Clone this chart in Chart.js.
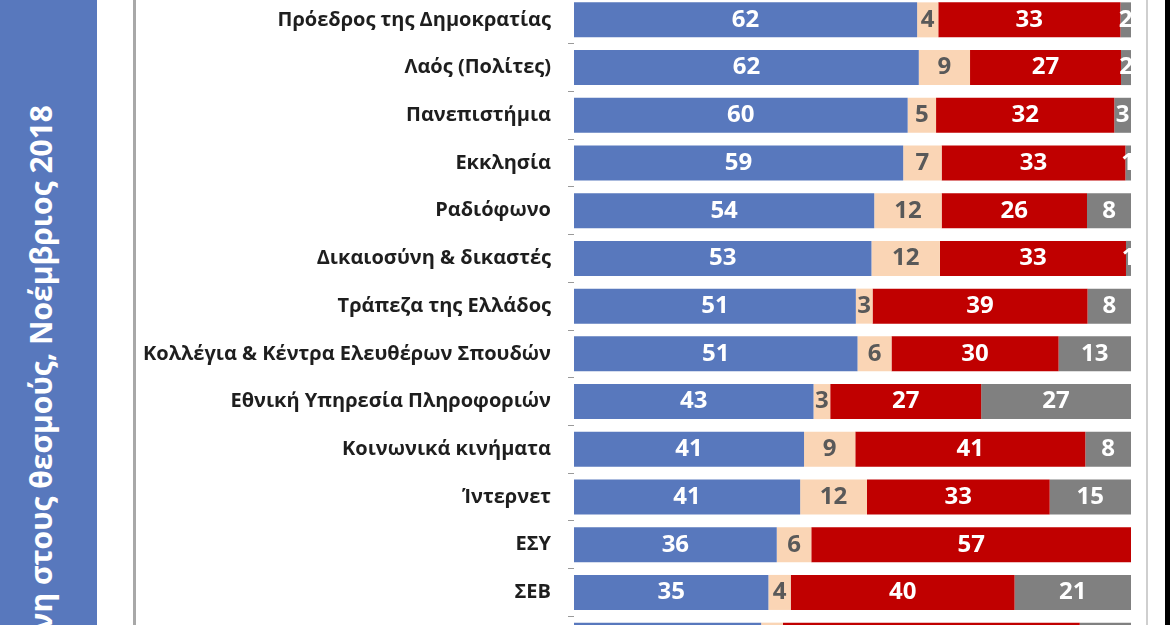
<!DOCTYPE html>
<html>
<head>
<meta charset="utf-8">
<script src="https://cdn.jsdelivr.net/npm/chart.js@4/dist/chart.umd.min.js"></script>
<style>
  html, body { margin: 0; padding: 0; width: 1170px; height: 625px; overflow: hidden; background: #fff; }
  #band { position: absolute; left: 0; top: 0; width: 97px; height: 625px; background: #5878BD; overflow: hidden; }
  #title { position: absolute; left: 26px; top: 105px; transform-origin: 0 0; transform: rotate(-90deg) translateX(-100%);
           white-space: nowrap; font: 700 30px 'Open Sans'; line-height: 30px; color: #fff; }
  #lborder { position: absolute; left: 133px; top: 0; width: 3px; height: 625px; background: #a8a8a8; }
  #rborder { position: absolute; left: 1146px; top: 0; width: 2px; height: 625px; background: #cfcfcf; }
  #edge { position: absolute; left: 1165px; top: 0; width: 5px; height: 625px; background: #000; }
  #chart { position: absolute; left: 0; top: -4px; }
</style>
</head>
<body>
<div id="band"><div id="title">Εμπιστοσύνη στους θεσμούς, Νοέμβριος 2018</div></div>
<div id="lborder"></div>
<div id="rborder"></div>
<div id="edge"></div>
<canvas id="chart" width="1170" height="668"></canvas>
<script>
// Data (percent; labels show the rounded value)
const categories = [
  'Πρόεδρος της Δημοκρατίας',
  'Λαός (Πολίτες)',
  'Πανεπιστήμια',
  'Εκκλησία',
  'Ραδιόφωνο',
  'Δικαιοσύνη & δικαστές',
  'Τράπεζα της Ελλάδος',
  'Κολλέγια & Κέντρα Ελευθέρων Σπουδών',
  'Εθνική Υπηρεσία Πληροφοριών',
  'Κοινωνικά κινήματα',
  'Ίντερνετ',
  'ΕΣΥ',
  'ΣΕΒ',
  ''
];
const trust    = [61.6, 61.9, 59.9, 59.1, 53.9, 53.4, 50.6, 50.9, 43.0, 41.3, 40.6, 36.4, 34.9, 33.6];
const neutral  = [3.8, 9.2, 5.1, 6.9, 12.1, 12.3, 3.0, 6.1, 3.0, 9.2, 12.0, 6.2, 4.0, 3.9];
const distrust = [32.7, 27.1, 32.0, 33.0, 26.1, 33.4, 38.6, 30.0, 27.1, 41.3, 32.8, 57.4, 40.2, 53.3];
const noAnswer = [1.9, 1.8, 3.0, 1.0, 7.9, 0.9, 7.8, 13.0, 26.9, 8.2, 14.6, 0, 20.9, 9.2];

const barColors   = ['#5878BD', '#FAD5B5', '#C00000', '#808080'];
const labelColors = ['#ffffff', '#595959', '#ffffff', '#ffffff'];

// Value labels centred in each segment
const valueLabels = {
  id: 'valueLabels',
  afterDatasetsDraw(chart) {
    const ctx = chart.ctx, a = chart.chartArea;
    ctx.save();
    ctx.beginPath();
    ctx.rect(a.left, a.top, a.right - a.left, a.bottom - a.top);
    ctx.clip();
    ctx.font = '700 24px "Open Sans"';
    ctx.textAlign = 'center';
    ctx.textBaseline = 'middle';
    chart.data.datasets.forEach((ds, i) => {
      chart.getDatasetMeta(i).data.forEach((bar, j) => {
        const v = ds.data[j];
        if (!v || v < 0.5) return;
        ctx.fillStyle = labelColors[i];
        ctx.fillText(Math.round(v), (bar.x + bar.base) / 2, bar.y);
      });
    });
    ctx.restore();
  }
};

const series = [trust, neutral, distrust, noAnswer];
const names = ['Εμπιστεύομαι', 'ΔΓ/ΔΑ', 'Δεν εμπιστεύομαι', 'Άλλο'];

new Chart(document.getElementById('chart'), {
  type: 'bar',
  data: {
    labels: categories,
    datasets: series.map((d, i) => ({
      label: names[i],
      data: d,
      backgroundColor: barColors[i],
      borderWidth: 0,
      barPercentage: 0.734,
      categoryPercentage: 1
    }))
  },
  options: {
    indexAxis: 'y',
    responsive: false,
    animation: false,
    layout: { padding: { left: 0, right: 39, top: 0, bottom: 0 } },
    plugins: { legend: { display: false }, tooltip: { enabled: false } },
    scales: {
      x: { stacked: true, min: 0, max: 100, display: false },
      y: {
        stacked: true,
        afterFit: s => { s.width = 574; s.paddingTop = 0; s.paddingBottom = 0; },
        border: { display: false },
        grid: { drawOnChartArea: false, drawTicks: true, tickLength: 6, color: '#9a9a9a', offset: true },
        ticks: { color: '#1e1e1e', padding: 17, font: { family: 'Open Sans', size: 20, weight: 'bold' } }
      }
    }
  },
  plugins: [valueLabels]
});
</script>
</body>
</html>
